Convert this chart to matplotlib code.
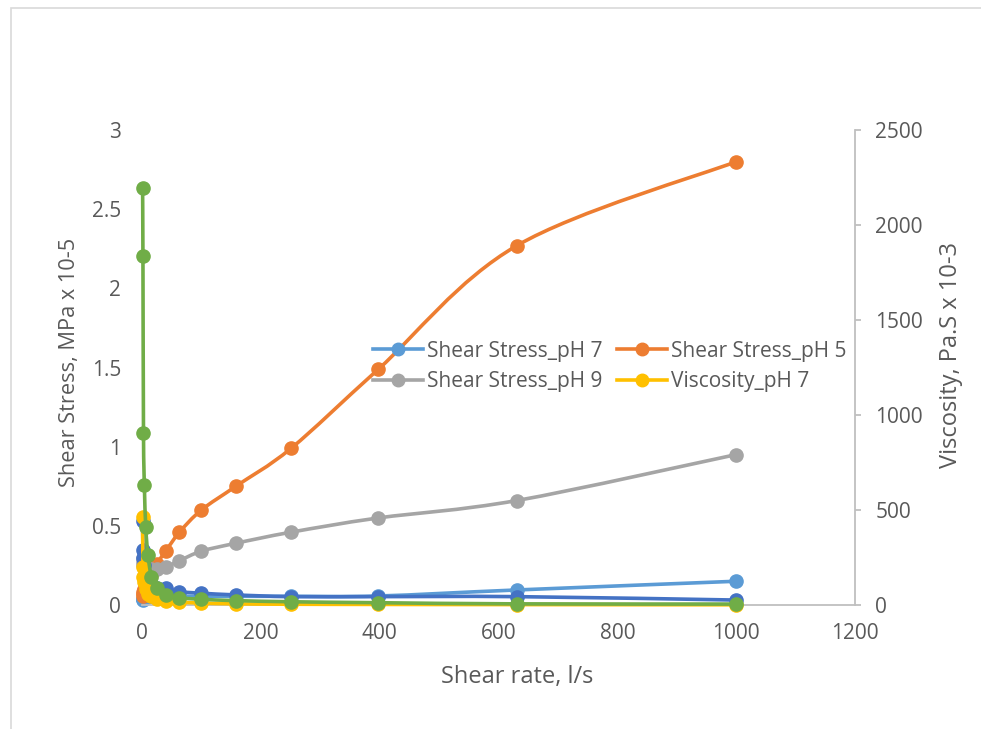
import numpy as np
import matplotlib
matplotlib.use("Agg")
import matplotlib.pyplot as plt
from matplotlib.path import Path
from matplotlib.patches import PathPatch, Rectangle
from matplotlib.lines import Line2D

plt.rcParams['font.family'] = ['Open Sans', 'DejaVu Sans']

# ---- data ----
shear_rate = [1, 1.58, 2.51, 3.98, 6.31, 10, 15.8, 25.1, 39.8, 63.1, 100, 158, 251, 398, 631, 1000]
stress_ph7 = [0.03, 0.035, 0.04, 0.045, 0.05, 0.05, 0.055, 0.055, 0.055, 0.055, 0.055, 0.055, 0.055, 0.057, 0.095, 0.15]
stress_ph5 = [0.06, 0.07, 0.08, 0.10, 0.12, 0.15, 0.19, 0.26, 0.34, 0.46, 0.60, 0.75, 0.99, 1.49, 2.27, 2.80]
stress_ph9 = [0.30, 0.27, 0.25, 0.24, 0.23, 0.23, 0.23, 0.23, 0.24, 0.28, 0.34, 0.39, 0.46, 0.55, 0.66, 0.95]
visc_ph7 = [465, 200, 150, 120, 85, 60, 45, 30, 20, 15, 10, 6, 4, 3, 2, 1]
visc_ph5 = [442, 290, 247, 210, 158, 121, 96, 89, 88, 70, 62, 53, 44, 44, 44, 26]
visc_ph9 = [2195, 1837, 905, 630, 410, 263, 150, 90, 55, 38, 30, 23, 17, 12, 6, 5]

labels = ["Shear Stress_pH 7", "Shear Stress_pH 5", "Shear Stress_pH 9", "Viscosity_pH 7"]
c_lblue, c_orange, c_gray, c_yellow, c_dblue, c_green = "#5B9BD5", "#ED7D31", "#A5A5A5", "#FFC000", "#4472C4", "#70AD47"
txt = "#595959"

W, H = 981, 729
fig = plt.figure(figsize=(W / 100, H / 100), dpi=100)
ax_l, ax_b, ax_r, ax_t = 142, 605, 855, 130
ax = fig.add_axes([ax_l / W, 1 - ax_b / H, (ax_r - ax_l) / W, (ax_b - ax_t) / H])
ax2 = ax.twinx()

XMAX, Y1MAX, Y2MAX = 1200, 3, 2500
pxw, pxh = ax_r - ax_l, ax_b - ax_t


def smooth(axis, x, y, ymax, color, z):
    x = np.asarray(x, float)
    y = np.asarray(y, float)
    sx, sy = pxw / XMAX, pxh / ymax
    p = np.column_stack([x * sx, y * sy])
    n = len(p)
    verts = [p[0]]
    codes = [Path.MOVETO]
    for i in range(n - 1):
        p0 = p[i - 1] if i > 0 else p[i]
        p1, p2 = p[i], p[i + 1]
        p3 = p[i + 2] if i + 2 < n else p[i + 1]
        c1 = p1 + (p2 - p0) / 6.0
        c2 = p2 - (p3 - p1) / 6.0
        verts += [c1, c2, p2]
        codes += [Path.CURVE4] * 3
    verts = np.array(verts)
    verts[:, 0] /= sx
    verts[:, 1] /= sy
    patch = PathPatch(Path(verts, codes), fill=False, edgecolor=color, lw=2.6,
                      capstyle='round', joinstyle='round', zorder=z, clip_on=False)
    axis.add_patch(patch)
    axis.plot(x, y, ls='none', marker='o', ms=9.5, color=color, zorder=z + 0.1, clip_on=False)


smooth(ax, shear_rate, stress_ph7, Y1MAX, c_lblue, 2)
smooth(ax, shear_rate, stress_ph5, Y1MAX, c_orange, 3)
smooth(ax, shear_rate, stress_ph9, Y1MAX, c_gray, 4)
smooth(ax2, shear_rate, visc_ph5, Y2MAX, c_dblue, 2)
smooth(ax2, shear_rate, visc_ph7, Y2MAX, c_yellow, 3)
smooth(ax2, shear_rate, visc_ph9, Y2MAX, c_green, 4)

ax.set_xlim(0, XMAX)
ax.set_ylim(0, Y1MAX)
ax2.set_ylim(0, Y2MAX)
ax.set_xticks(np.arange(0, 1201, 200))
ax.set_yticks([0, 0.5, 1, 1.5, 2, 2.5, 3])
ax.set_yticklabels(["0", "0.5", "1", "1.5", "2", "2.5", "3"])
ax2.set_yticks(np.arange(0, 2501, 500))

for a in (ax, ax2):
    for s in a.spines.values():
        s.set_visible(False)
ax.spines['bottom'].set_visible(True)
ax.spines['bottom'].set_color("#BFBFBF")
ax.spines['bottom'].set_linewidth(1.3)
ax2.spines['right'].set_visible(True)
ax2.spines['right'].set_color("#BFBFBF")
ax2.spines['right'].set_linewidth(1.3)

ax.tick_params(axis='x', length=0, pad=13, labelsize=15, labelcolor=txt)
ax.tick_params(axis='y', length=0, pad=15, labelsize=15, labelcolor=txt)
ax2.tick_params(axis='y', length=4.5, width=1.3, color="#BFBFBF", pad=10, labelsize=15, labelcolor=txt)

fig.text(517 / W, 1 - 677 / H, "Shear rate, l/s", fontsize=17, color=txt, ha='center', va='center')
fig.text(70 / W, 1 - 362 / H, "Shear Stress, MPa x 10-5", fontsize=15.7, color=txt,
         ha='center', va='center', rotation=90)
fig.text(951 / W, 1 - 355 / H, "Viscosity, Pa.S x 10-3", fontsize=17, color=txt,
         ha='center', va='center', rotation=90)

handles = [Line2D([], [], color=c, lw=2.6, marker='o', ms=9) for c in (c_lblue, c_gray, c_orange, c_yellow)]
leg_labels = [labels[0], labels[2], labels[1], labels[3]]
leg = ax2.legend(handles, leg_labels, ncol=2, loc='upper left', bbox_to_anchor=((358 - ax_l) / pxw, (ax_b - 326) / pxh),
                 frameon=False, fontsize=15, labelcolor=txt, handlelength=2.4, handletextpad=0.2,
                 columnspacing=0.7, labelspacing=0.45, borderpad=0.2)
leg.set_zorder(10)

# chart area border
fig.patches.append(Rectangle((11 / W, -0.05), 1.2, 1 - 8 / H + 0.05, transform=fig.transFigure,
                             fill=False, edgecolor="#D9D9D9", lw=1.2))

fig.savefig("out.png", dpi=100, facecolor="white")
